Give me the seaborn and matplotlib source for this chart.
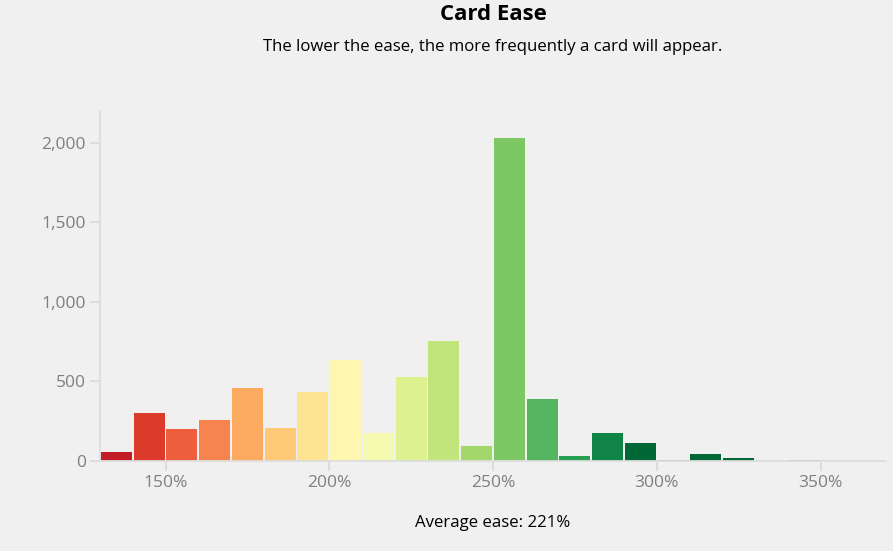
import numpy as np
import pandas as pd
import matplotlib
matplotlib.use("Agg")
import matplotlib.pyplot as plt
import seaborn as sns
from matplotlib.ticker import FuncFormatter

# ---- data ----
bin_starts = [130, 140, 150, 160, 170, 180, 190, 200, 210, 220, 230, 240,
              250, 260, 270, 280, 290, 300, 310, 320, 330, 340]
counts = [56, 301, 204, 260, 456, 209, 433, 633, 177, 525, 753, 93,
          2028, 391, 29, 178, 115, 7, 46, 19, 0, 6]
x_ticks = [150, 200, 250, 300, 350]
y_ticks = [0, 500, 1000, 1500, 2000]
title = "Card Ease"
subtitle = "The lower the ease, the more frequently a card will appear."
footer = "Average ease: 221%"

df = pd.DataFrame({"ease": [b + 5 for b in bin_starts], "count": counts})

bg = "#f0f0f0"
sns.set_theme(style="white")
plt.rcParams["font.family"] = ["Open Sans", "Noto Sans", "DejaVu Sans"]

fig = plt.figure(figsize=(8.93, 5.51), dpi=100, facecolor=bg)
ax = fig.add_axes([100 / 893, (551 - 461) / 551, 786 / 893, (461 - 111) / 551])
ax.set_facecolor(bg)

sns.histplot(data=df, x="ease", weights="count", binwidth=10,
             binrange=(130, 350), shrink=0.94, ax=ax, edgecolor="none",
             alpha=1)

cmap = plt.get_cmap("RdYlGn")
for p in ax.patches:
    x0 = p.get_x() + p.get_width() / 2 - 5
    t = np.clip((x0 - 120) / (290 - 120), 0, 1)
    p.set_facecolor(cmap(t))

ax.set_xlim(130, 370)
ax.set_ylim(0, 2200)
ax.set_xticks(x_ticks)
ax.set_yticks(y_ticks)
ax.xaxis.set_major_formatter(FuncFormatter(lambda v, _: f"{int(v)}%"))
ax.yaxis.set_major_formatter(FuncFormatter(lambda v, _: f"{int(v):,}"))
ax.set_xlabel("")
ax.set_ylabel("")

for s in ["top", "right"]:
    ax.spines[s].set_visible(False)
for s in ["left", "bottom"]:
    ax.spines[s].set_color("#dedede")
    ax.spines[s].set_linewidth(1.3)
ax.tick_params(axis="both", length=7, width=1.2, color="#d8d8d8",
               labelcolor="#7f7f7f", labelsize=12.5, pad=3)
ax.tick_params(axis="x", bottom=True)
ax.tick_params(axis="y", left=True)

cx = (100 + 886) / 2 / 893
fig.text(cx, 1 - 15 / 551, title, ha="center", va="center",
         fontsize=16, fontweight="bold", color="black")
fig.text(cx, 1 - 47 / 551, subtitle, ha="center", va="center",
         fontsize=12.1, color="black")
fig.text(cx, 1 - 523 / 551, footer, ha="center", va="center",
         fontsize=12.1, color="black")

fig.savefig("out.png", dpi=100, facecolor=bg)
